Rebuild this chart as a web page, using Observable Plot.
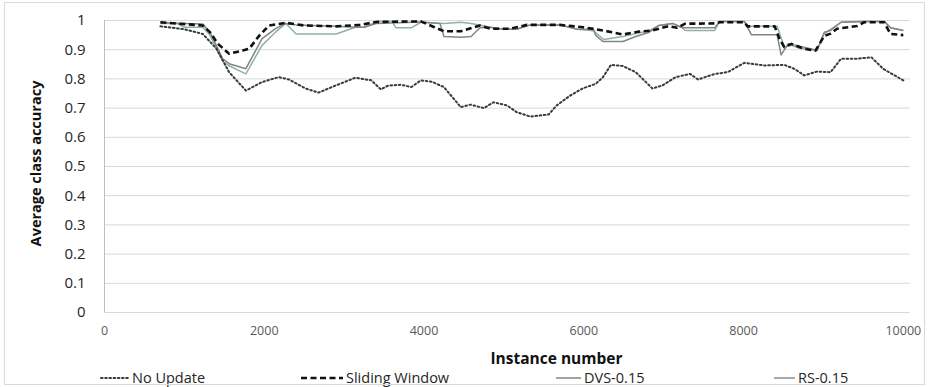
<!DOCTYPE html>
<html>
<head>
<meta charset="utf-8">
<script src="https://cdn.jsdelivr.net/npm/d3@7"></script>
<script src="https://cdn.jsdelivr.net/npm/@observablehq/plot@0.6"></script>
<style>
  html, body { margin: 0; padding: 0; background: #fff; }
  #wrap { position: relative; width: 929px; height: 387px; font-family: "Open Sans", sans-serif; overflow: hidden; }
  #border { position: absolute; left: 4px; top: 2px; width: 919px; height: 381px; border: 1px solid #d9d9d9; pointer-events: none; }
  #chart { position: absolute; left: 0; top: 0; }
  #legend { position: absolute; left: 0; top: 368px; width: 929px; height: 19px; }
  .item { position: absolute; top: 0; height: 19px; display: flex; align-items: center; font-size: 14.5px; color: #262626; white-space: nowrap; }
  .item svg { margin-right: 2px; }
</style>
</head>
<body>
<div id="wrap">
  <div id="chart"></div>
  <div id="legend"></div>
  <div id="border"></div>
</div>
<script>
// Average class accuracy per instance, for each update strategy
const noUpdateX = [700, 1000, 1230, 1400, 1560, 1770, 1970, 2180, 2310, 2520, 2680, 2890, 3140, 3340, 3460, 3550, 3710, 3840, 3960, 4100, 4250, 4460, 4580, 4750, 4870, 5040, 5160, 5330, 5560, 5660, 5830, 5990, 6150, 6240, 6340, 6490, 6650, 6860, 6980, 7150, 7330, 7430, 7640, 7800, 8010, 8260, 8510, 8640, 8760, 8920, 9090, 9220, 9420, 9600, 9750, 10000];
const noUpdateY = [0.980, 0.970, 0.954, 0.904, 0.823, 0.760, 0.789, 0.806, 0.798, 0.767, 0.753, 0.777, 0.804, 0.795, 0.764, 0.777, 0.780, 0.772, 0.795, 0.790, 0.772, 0.703, 0.712, 0.700, 0.720, 0.709, 0.686, 0.671, 0.678, 0.709, 0.743, 0.768, 0.783, 0.806, 0.848, 0.844, 0.823, 0.767, 0.777, 0.806, 0.817, 0.798, 0.817, 0.823, 0.855, 0.846, 0.848, 0.834, 0.812, 0.825, 0.823, 0.869, 0.869, 0.874, 0.834, 0.795];

const slidingX = [700, 1230, 1320, 1420, 1560, 1730, 1810, 1940, 2060, 2270, 2500, 2900, 3200, 3400, 3960, 4130, 4250, 4460, 4630, 4700, 4830, 5080, 5290, 5700, 5990, 6240, 6490, 6690, 6860, 7060, 7170, 7270, 7640, 7700, 8010, 8050, 8390, 8450, 8510, 8600, 8760, 8900, 9010, 9090, 9170, 9420, 9510, 9760, 9840, 10000];
const slidingY = [0.994, 0.983, 0.960, 0.920, 0.886, 0.897, 0.903, 0.949, 0.983, 0.992, 0.983, 0.980, 0.985, 0.995, 0.997, 0.977, 0.963, 0.963, 0.977, 0.983, 0.972, 0.972, 0.985, 0.985, 0.977, 0.966, 0.952, 0.962, 0.966, 0.981, 0.975, 0.989, 0.990, 0.994, 0.994, 0.980, 0.980, 0.937, 0.909, 0.920, 0.903, 0.897, 0.947, 0.955, 0.972, 0.981, 0.994, 0.994, 0.954, 0.950];

const dvsX = [700, 1000, 1230, 1320, 1480, 1560, 1770, 1970, 2140, 2270, 2400, 2900, 3140, 3250, 3400, 3960, 4200, 4250, 4460, 4590, 4700, 4830, 5000, 5160, 5330, 5700, 5920, 6120, 6150, 6240, 6490, 6650, 6820, 6940, 7110, 7220, 7270, 7640, 7700, 8010, 8100, 8420, 8470, 8560, 8670, 8840, 8920, 9010, 9090, 9220, 9510, 9760, 9840, 10000];
const dvsY = [0.993, 0.990, 0.988, 0.960, 0.869, 0.852, 0.835, 0.937, 0.972, 0.990, 0.985, 0.980, 0.977, 0.977, 0.990, 0.995, 0.990, 0.945, 0.943, 0.945, 0.975, 0.977, 0.970, 0.970, 0.985, 0.985, 0.970, 0.970, 0.949, 0.928, 0.928, 0.945, 0.960, 0.983, 0.990, 0.977, 0.975, 0.975, 0.997, 0.997, 0.951, 0.951, 0.882, 0.920, 0.914, 0.903, 0.897, 0.960, 0.966, 0.994, 0.997, 0.997, 0.975, 0.966];

const rsX = [700, 900, 1000, 1230, 1320, 1480, 1560, 1770, 1970, 2140, 2270, 2400, 2900, 3140, 3250, 3420, 3600, 3650, 3840, 3960, 4250, 4460, 4590, 4830, 5000, 5160, 5330, 5700, 5920, 6120, 6250, 6490, 6650, 6820, 6940, 7110, 7220, 7270, 7640, 7700, 8010, 8050, 8420, 8510, 8600, 8700, 8920, 9010, 9220, 9510, 9760, 9840, 10000];
const rsY = [0.990, 0.990, 0.977, 0.977, 0.950, 0.860, 0.845, 0.817, 0.914, 0.960, 0.990, 0.954, 0.954, 0.977, 0.977, 0.997, 0.997, 0.975, 0.975, 0.994, 0.990, 0.994, 0.990, 0.977, 0.970, 0.970, 0.985, 0.985, 0.970, 0.965, 0.935, 0.945, 0.955, 0.965, 0.983, 0.990, 0.977, 0.966, 0.966, 0.997, 0.997, 0.980, 0.980, 0.909, 0.915, 0.905, 0.897, 0.955, 0.994, 0.997, 0.997, 0.975, 0.966];

const xTicks = [0, 2000, 4000, 6000, 8000, 10000];
const yTicks = [0, 0.1, 0.2, 0.3, 0.4, 0.5, 0.6, 0.7, 0.8, 0.9, 1];

const seriesNames = ["No Update", "Sliding Window", "DVS-0.15", "RS-0.15"];
const seriesStyle = {
  "No Update":      {stroke: "#3a3a3a", strokeWidth: 2,   dash: "1.6 2.6", cap: "round"},
  "Sliding Window": {stroke: "#111111", strokeWidth: 2.6, dash: "6 3.5",   cap: "butt"},
  "DVS-0.15":       {stroke: "#858585", strokeWidth: 1.5, dash: null,      cap: "butt"},
  "RS-0.15":        {stroke: "#8fb0ac", strokeWidth: 1.5, dash: null,      cap: "butt"}
};

const toRows = (xs, ys) => d3.zip(xs, ys).map(([x, y]) => ({x, y}));
const series = {
  "No Update": toRows(noUpdateX, noUpdateY),
  "Sliding Window": toRows(slidingX, slidingY),
  "DVS-0.15": toRows(dvsX, dvsY),
  "RS-0.15": toRows(rsX, rsY)
};

const lineMark = (name) => {
  const s = seriesStyle[name];
  return Plot.line(series[name], {
    x: "x", y: "y",
    stroke: s.stroke, strokeWidth: s.strokeWidth,
    strokeDasharray: s.dash, strokeLinecap: s.cap, strokeLinejoin: "round"
  });
};

const chart = Plot.plot({
  width: 929,
  height: 368,
  marginLeft: 104,
  marginRight: 19,
  marginTop: 20,
  marginBottom: 56,
  style: {fontFamily: "'Open Sans', sans-serif", background: "transparent"},
  x: {domain: [0, 10090]},
  y: {domain: [0, 1]},
  marks: [
    Plot.ruleY(yTicks, {stroke: "#d9d9d9", strokeWidth: 1}),
    Plot.ruleX([0], {stroke: "#bfbfbf", strokeWidth: 1}),
    // draw order: solid series first, dashed and dotted on top
    lineMark("RS-0.15"),
    lineMark("DVS-0.15"),
    lineMark("No Update"),
    lineMark("Sliding Window"),
    Plot.axisX({ticks: xTicks, tickSize: 0, tickPadding: 14, fontSize: 12.5, fill: "#595959", label: null, tickFormat: d3.format("d")}),
    Plot.axisY({ticks: yTicks, tickSize: 0, tickPadding: 19, fontSize: 15, fill: "#262626", label: null, tickFormat: (d) => String(+d.toFixed(1))}),
    Plot.text(["Instance number"], {frameAnchor: "bottom", dx: 49, dy: 47, fontSize: 15.5, fontWeight: "bold", fill: "#111", lineAnchor: "middle"}),
    Plot.text(["Average class accuracy"], {frameAnchor: "left", dx: -68, dy: -3, rotate: -90, fontSize: 14.5, fontWeight: "bold", fill: "#111", textAnchor: "middle", lineAnchor: "middle"})
  ]
});
document.getElementById("chart").appendChild(chart);

// Legend below the chart
const legendPos = {
  "No Update":      {left: 100, sample: 30},
  "Sliding Window": {left: 300, sample: 44},
  "DVS-0.15":       {left: 555, sample: 27},
  "RS-0.15":        {left: 773, sample: 23}
};
const legend = document.getElementById("legend");
for (const name of seriesNames) {
  const s = seriesStyle[name];
  const p = legendPos[name];
  const item = document.createElement("div");
  item.className = "item";
  item.style.left = p.left + "px";
  const svg = d3.create("svg").attr("width", p.sample).attr("height", 10);
  svg.append("line")
    .attr("x1", 1).attr("x2", p.sample - 1).attr("y1", 5).attr("y2", 5)
    .attr("stroke", name === "RS-0.15" ? "#8c8c8c" : s.stroke)
    .attr("stroke-width", s.strokeWidth)
    .attr("stroke-dasharray", s.dash)
    .attr("stroke-linecap", s.cap);
  item.appendChild(svg.node());
  const label = document.createElement("span");
  label.textContent = name;
  item.appendChild(label);
  legend.appendChild(item);
}
</script>
</body>
</html>
